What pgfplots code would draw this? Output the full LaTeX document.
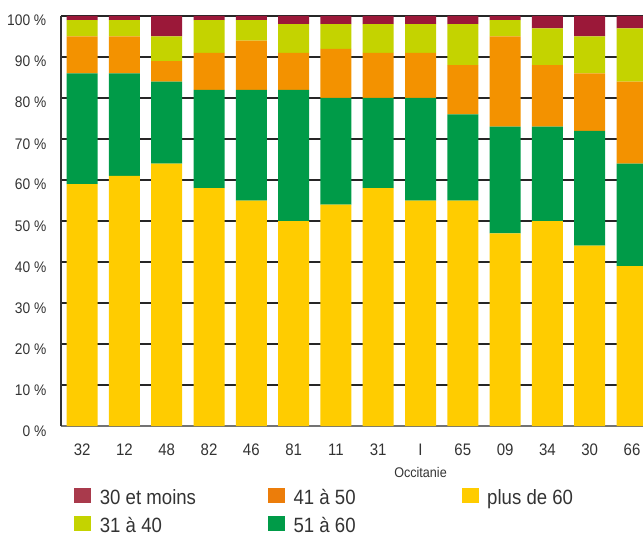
\documentclass[border=0pt]{standalone}
\usepackage{fontspec}
\setmainfont{Liberation Sans}[FakeStretch=0.9]
\usepackage{pgfplots}
\pgfplotsset{compat=1.18}
\definecolor{c60}{HTML}{FFCC00}
\definecolor{c51}{HTML}{009B48}
\definecolor{c41}{HTML}{F39200}
\definecolor{c31}{HTML}{C4D300}
\definecolor{c30}{HTML}{9B1839}
\definecolor{lg30}{HTML}{A93A4C}
\definecolor{lg41}{HTML}{EC7D0A}
\definecolor{txt}{HTML}{333333}

% columns: x, plus de 60, 51 a 60, 41 a 50, 31 a 40, 30 et moins
\pgfplotstableread{
x  a   b   c   d   e
0  59  27  9   4   1
1  61  25  9   4   1
2  64  20  5   6   5
3  58  24  9   8   1
4  55  27  12  5   1
5  50  32  9   7   2
6  54  26  12  6   2
7  58  22  11  7   2
8  55  25  11  7   2
9  55  21  12  10  2
10 47  26  22  4   1
11 50  23  15  9   3
12 44  28  14  9   5
13 39  25  20  13  3
}\dep

\begin{document}
\begin{tikzpicture}
\useasboundingbox (-45.75pt,-82.5pt) rectangle (436.5pt,319.5pt);
\begin{axis}[
  scale only axis,
  width=436.5pt, height=307.5pt,
  xmin=-0.5, xmax=13.26, ymin=0, ymax=100,
  ybar stacked, bar width=23.25pt,
  clip mode=individual,
  axis x line*=bottom, axis y line*=left,
  x axis line style={draw=black!55, line width=1pt, -},
  y axis line style={draw=black!80, line width=1pt, -},
  ymajorgrids, grid style={black!85, line width=0.9pt},
  major tick length=0pt,
  xtick={0,...,13},
  xticklabels={32,12,48,82,46,81,11,31,I,65,09,34,30,66},
  xticklabel style={font=\fontsize{12.5}{14}\selectfont, text=txt, anchor=base, yshift=-21.75pt},
  ytick={0,10,...,100},
  yticklabels={0 \%,10 \%,20 \%,30 \%,40 \%,50 \%,60 \%,70 \%,80 \%,90 \%,100 \%},
  yticklabel style={font=\fontsize{11.5}{13}\selectfont, text=txt, anchor=base east, xshift=-7.5pt, yshift=-7.5pt},
  legend columns=3,
  legend style={draw=none, fill=none, inner sep=0pt, column sep=0pt, row sep=2.5pt,
    font=\fontsize{15.5}{18.6}\selectfont, text=txt,
    at={(axis description cs:0.0223,-0.143)}, anchor=north west,
    /tikz/every odd column/.append style={column sep=4.5pt}},
  legend image code/.code={\fill[#1] (0pt,-4.25pt) rectangle (12.75pt,7pt);},
]
\addplot+[fill=c60, draw=none, forget plot] table[x=x, y=a] {\dep};
\addplot+[fill=c51, draw=none, forget plot] table[x=x, y=b] {\dep};
\addplot+[fill=c41, draw=none, forget plot] table[x=x, y=c] {\dep};
\addplot+[fill=c31, draw=none, forget plot] table[x=x, y=d] {\dep};
\addplot+[fill=c30, draw=none, forget plot] table[x=x, y=e] {\dep};

\addlegendimage{fill=lg30, draw=none}
\addlegendentry{\makebox[124pt][l]{\strut 30 et moins}}
\addlegendimage{fill=lg41, draw=none}
\addlegendentry{\makebox[124pt][l]{\strut 41 à 50}}
\addlegendimage{fill=c60, draw=none}
\addlegendentry{\strut plus de 60}
\addlegendimage{fill=c31, draw=none}
\addlegendentry{\makebox[124pt][l]{\strut 31 à 40}}
\addlegendimage{fill=c51, draw=none}
\addlegendentry{\makebox[124pt][l]{\strut 51 à 60}}

\node[font=\fontsize{10.5}{12}\selectfont, text=txt, anchor=base]
  at (axis cs:8,0) [yshift=-38.25pt] {Occitanie};
\end{axis}
\end{tikzpicture}
\end{document}
